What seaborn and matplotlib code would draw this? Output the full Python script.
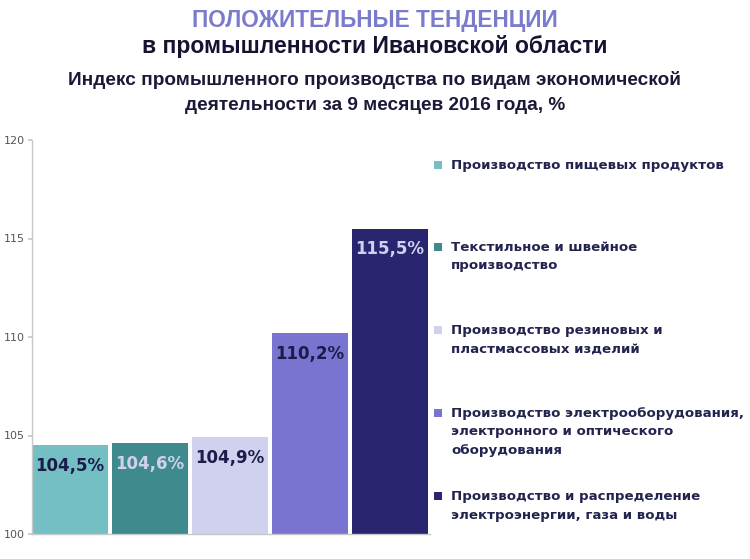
import matplotlib
matplotlib.use("Agg")
import matplotlib.pyplot as plt
import seaborn as sns
import pandas as pd
from matplotlib.patches import Rectangle

categories = [
    "Производство пищевых продуктов",
    "Текстильное и швейное\nпроизводство",
    "Производство резиновых и\nпластмассовых изделий",
    "Производство электрооборудования,\nэлектронного и оптического\nоборудования",
    "Производство и распределение\nэлектроэнергии, газа и воды",
]
values = [104.5, 104.6, 104.9, 110.2, 115.5]
value_labels = ["104,5%", "104,6%", "104,9%", "110,2%", "115,5%"]
colors = ["#74BFC4", "#3E8A8D", "#D0D1EE", "#7874CF", "#29256F"]
label_colors = ["#1C1C4A", "#D0D1EE", "#1C1C4A", "#1C1C4A", "#D0D1EE"]
yticks = [100, 105, 110, 115, 120]

sns.set_theme(style="white")
plt.rcParams["font.family"] = ["DejaVu Sans"]

fig = plt.figure(figsize=(7.5, 5.59), dpi=100)
ax = fig.add_axes([32 / 750, 1 - 534 / 559, 398 / 750, (534 - 140) / 559])

df = pd.DataFrame({"cat": categories, "val": values})
sns.barplot(data=df, x="cat", y="val", hue="cat", palette=colors, dodge=False,
            legend=False, width=0.95, ax=ax, saturation=1, edgecolor="none")
# bars start at 100 baseline
for p in ax.patches:
    h = p.get_height()
    p.set_y(100)
    p.set_height(h - 100)

ax.set_ylim(100, 120)
ax.set_xlim(-0.475, 4.5)
ax.set_yticks(yticks)
ax.set_yticklabels([str(t) for t in yticks], color="#555555", fontsize=8)
ax.set_xticks([])
ax.set_xlabel("")
ax.set_ylabel("")
for s in ["top", "right"]:
    ax.spines[s].set_visible(False)
for s in ["left", "bottom"]:
    ax.spines[s].set_color("#C8C8C8")
    ax.spines[s].set_linewidth(1)
ax.tick_params(axis="y", length=3, color="#C8C8C8", pad=2, left=True)

for i, (v, lab, c) in enumerate(zip(values, value_labels, label_colors)):
    ax.annotate(lab, (i, v), xytext=(0, -15), textcoords="offset points",
                ha="center", va="center", fontsize=12, fontweight="bold", color=c)

# legend (manual)
leg_y = [165, 247, 330, 413, 496]
for cat, col, y in zip(categories, colors, leg_y):
    fig.patches.append(Rectangle((434 / 750, 1 - (y + 4) / 559), 8 / 750, 8 / 559,
                                 transform=fig.transFigure, facecolor=col, edgecolor="none"))
    fig.text(451 / 750, 1 - (y - 6) / 559, cat, ha="left", va="top", fontsize=9.6,
             fontweight="bold", color="#23234F", linespacing=1.55)

title_family = ["Liberation Sans", "DejaVu Sans"]
fig.text(0.5, 1 - 20 / 559, "ПОЛОЖИТЕЛЬНЫЕ ТЕНДЕНЦИИ", ha="center", va="center",
         fontsize=16.3, fontweight="bold", color="#7B7BCC", family=title_family)
fig.text(0.5, 1 - 47 / 559, "в промышленности Ивановской области", ha="center", va="center",
         fontsize=16.5, fontweight="bold", color="#141432", family=title_family)
fig.text(0.5, 1 - 80 / 559, "Индекс промышленного производства по видам экономической",
         ha="center", va="center", fontsize=13.7, fontweight="bold", color="#1A1A38",
         family=title_family)
fig.text(0.5, 1 - 105 / 559, "деятельности за 9 месяцев 2016 года, %",
         ha="center", va="center", fontsize=13.7, fontweight="bold", color="#1A1A38",
         family=title_family)

fig.savefig("out.png", dpi=100)
